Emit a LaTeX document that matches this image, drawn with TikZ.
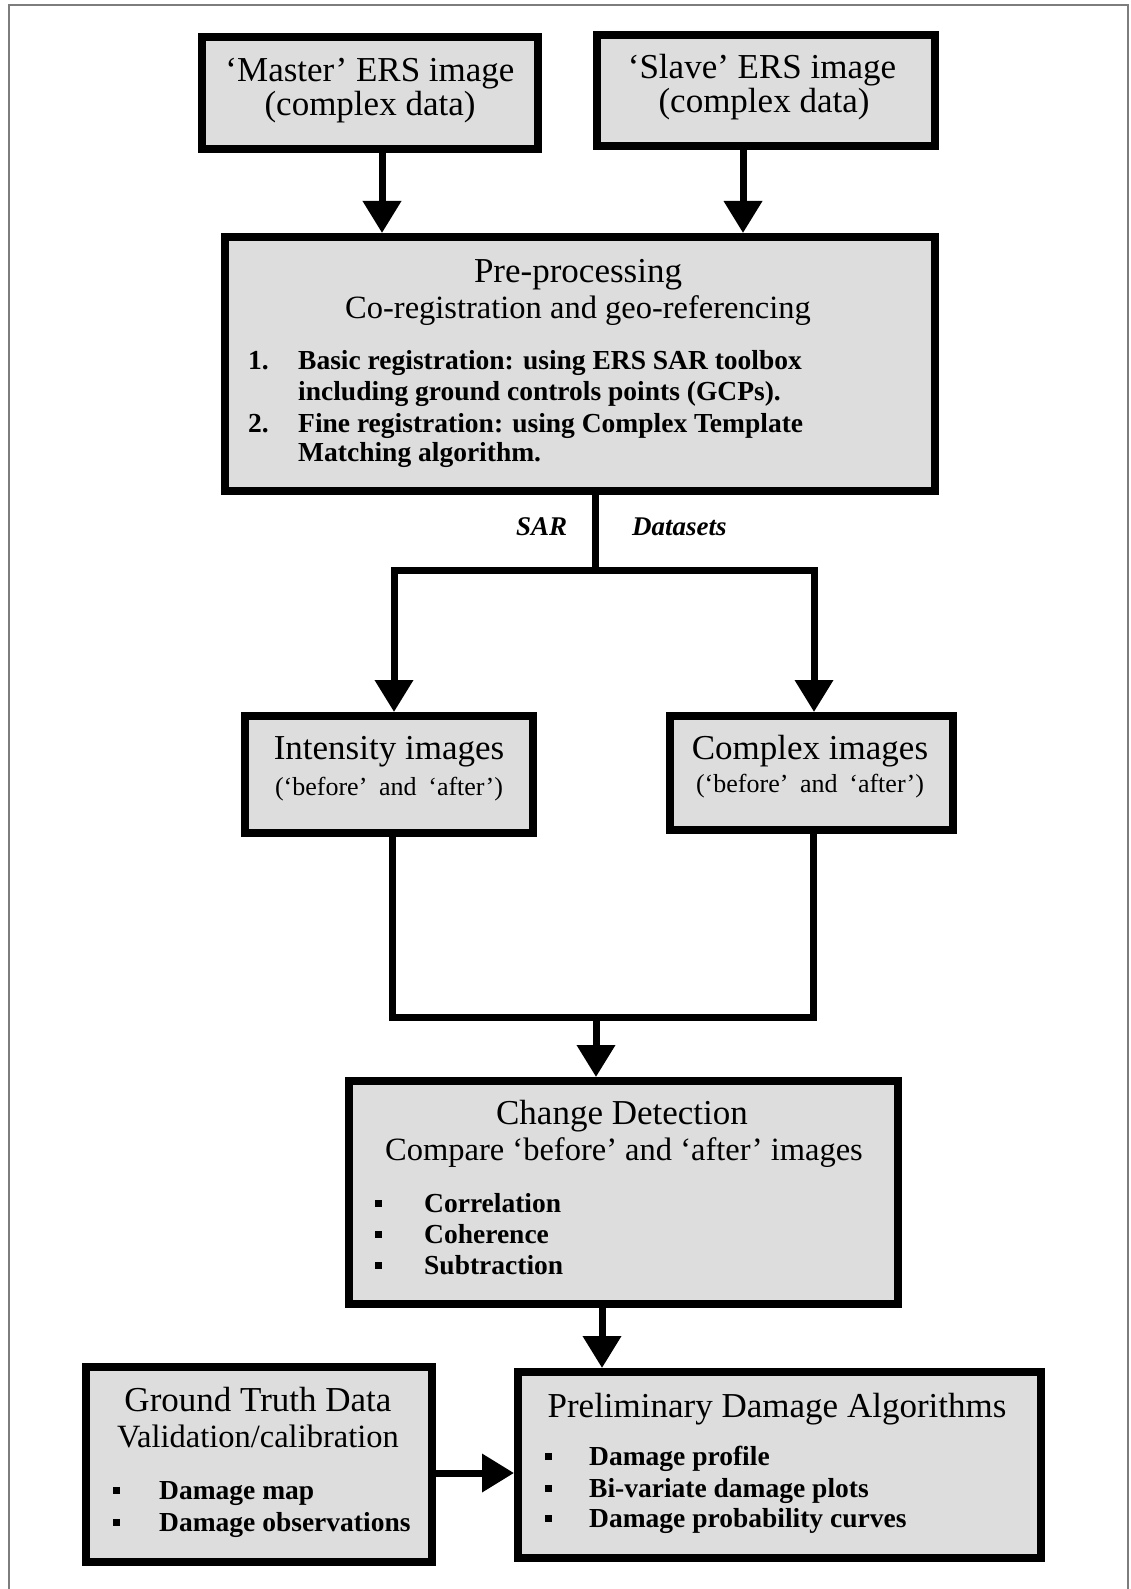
\documentclass[tikz,border=0pt]{standalone}
\usepackage{fontspec}
\setmainfont{Liberation Serif}
\usetikzlibrary{arrows.meta}

\definecolor{boxfill}{RGB}{221,221,221}
\definecolor{framegray}{RGB}{125,125,125}

% font sizes used in the flow chart
\newcommand\dgTitle{\fontsize{35}{35}\selectfont}
\newcommand\dgSub{\fontsize{32.5}{33}\selectfont}
\newcommand\dgItem{\fontsize{27.5}{31}\selectfont\bfseries}
\newcommand\dgParen{\fontsize{26}{28}\selectfont}
\newcommand\dgLabel{\fontsize{27}{28}\selectfont\bfseries\itshape}
\newcommand\dgBullet{\raisebox{5pt}{\rule{7pt}{7pt}}}

\begin{document}
\begin{tikzpicture}[x=1pt,y=-1pt,
  box/.style={draw=black, line width=8pt, fill=boxfill, inner sep=0pt},
  conn/.style={line width=7pt, line join=miter},
  arr/.style={conn, -{Triangle[width=37pt,length=32pt]}},
  arrboth/.style={conn, {Triangle[width=37pt,length=32pt]}-{Triangle[width=37pt,length=32pt]}},
  txt/.style={inner sep=0pt, anchor=base},
  ltxt/.style={inner sep=0pt, anchor=base west},
  bul/.style={inner sep=0pt, anchor=base},
]
\useasboundingbox (0,0) rectangle (1130,1589);
\draw[framegray, line width=2pt] (9.3,1589) -- (9.3,5) -- (1128,5) -- (1128,1589);

% ---------- boxes ----------
\node[box, minimum width=336, minimum height=112] (master) at (370,93) {};
\node[box, minimum width=338, minimum height=111] (slave)  at (766,90.5) {};
\node[box, minimum width=710, minimum height=254] (pre)    at (580,364) {};
\node[box, minimum width=288, minimum height=117] (inten)  at (389,774.5) {};
\node[box, minimum width=283, minimum height=114] (cplx)   at (811.5,773) {};
\node[box, minimum width=549, minimum height=223] (change) at (623.5,1192.5) {};
\node[box, minimum width=346, minimum height=195] (ground) at (259,1464.5) {};
\node[box, minimum width=523, minimum height=186] (prelim) at (779.5,1465) {};

% ---------- texts ----------
\node[txt, font=\dgTitle] (master-a) at (370,82)  {‘Master’ ERS image};
\node[txt, font=\dgTitle] (master-b) at (370,116) {(complex data)};
\node[txt, font=\dgTitle] (slave-a)  at (762,79)  {‘Slave’ ERS image};
\node[txt, font=\dgTitle] (slave-b)  at (764,113) {(complex data)};

\node[txt, font=\dgTitle] (pre-a) at (578,283) {Pre-processing};
\node[txt, font=\dgSub]   (pre-b) at (578,318) {Co-registration and geo-referencing};
\node[ltxt, font=\dgItem] (pre-n1) at (248,369) {1.};
\node[ltxt, font=\dgItem] (pre-c)  at (298,369) {Basic registration: using ERS SAR toolbox};
\node[ltxt, font=\dgItem] (pre-d)  at (298,400) {including ground controls points (GCPs).};
\node[ltxt, font=\dgItem] (pre-n2) at (248,432) {2.};
\node[ltxt, font=\dgItem] (pre-e)  at (298,432) {Fine registration: using Complex Template};
\node[ltxt, font=\dgItem] (pre-f)  at (298,461) {Matching algorithm.};

\node[ltxt, font=\dgLabel] (lab-sar) at (516,535) {SAR};
\node[ltxt, font=\dgLabel] (lab-ds)  at (632,535) {Datasets};

\node[txt, font=\dgTitle] (inten-a) at (389,759) {Intensity images};
\node[txt, font=\dgParen] (inten-b) at (389,795) {(‘before’\hspace{0.45em}and\hspace{0.45em}‘after’)};
\node[txt, font=\dgTitle] (cplx-a)  at (810,759) {Complex images};
\node[txt, font=\dgParen] (cplx-b)  at (810,792) {(‘before’\hspace{0.45em}and\hspace{0.45em}‘after’)};

\node[txt, font=\dgTitle] (change-a) at (622,1124) {Change Detection};
\node[txt, font=\dgSub]   (change-b) at (624,1160) {Compare ‘before’ and ‘after’ images};
\foreach \y/\t [count=\i] in {1212/Correlation, 1243/Coherence, 1274/Subtraction}{
  \node[bul, font=\dgItem] (change-bul\i) at (378,\y) {\dgBullet};
  \node[ltxt, font=\dgItem] (change-it\i) at (424,\y) {\t};
}

\node[txt, font=\dgTitle] (ground-a) at (258,1411) {Ground Truth Data};
\node[txt, font=\dgSub]   (ground-b) at (258,1447) {Validation/calibration};
\foreach \y/\t [count=\i] in {1499/Damage map, 1531/Damage observations}{
  \node[bul, font=\dgItem] (ground-bul\i) at (116,\y) {\dgBullet};
  \node[ltxt, font=\dgItem] (ground-it\i) at (159,\y) {\t};
}

\node[txt, font=\dgTitle] (prelim-a) at (777,1417) {Preliminary Damage Algorithms};
\foreach \y/\t [count=\i] in {1465/Damage profile, 1497/Bi-variate damage plots, 1527/Damage probability curves}{
  \node[bul, font=\dgItem] (prelim-bul\i) at (548,\y) {\dgBullet};
  \node[ltxt, font=\dgItem] (prelim-it\i) at (589,\y) {\t};
}

% ---------- connectors ----------
\draw[arr] ([xshift=12pt]master.south) -- ([xshift=12pt]master.south |- pre.north);
\draw[arr] ([xshift=-23pt]slave.south) -- ([xshift=-23pt]slave.south |- pre.north);

\coordinate (split)  at (595,570);
\coordinate (splitL) at (394,570);
\coordinate (splitR) at (814,570);
\draw[conn] (pre.south -| split) -- (split);
\draw[arrboth] (splitL |- inten.north) -- (splitL) -- (splitR) -- (splitR |- cplx.north);

\coordinate (merge)  at (596,1017);
\coordinate (mergeL) at (392,1017);
\coordinate (mergeR) at (813,1017);
\draw[conn] (inten.south -| mergeL) -- (mergeL) -- (mergeR) -- (cplx.south -| mergeR);
\draw[arr] (merge) -- (merge |- change.north);

\draw[arr] ([xshift=-21.5pt]change.south) -- ([xshift=-21.5pt]change.south |- prelim.north);
\draw[arr] ([yshift=-8.5pt]ground.east) -- ([yshift=-8.5pt]ground.east -| prelim.west);
\end{tikzpicture}
\end{document}
